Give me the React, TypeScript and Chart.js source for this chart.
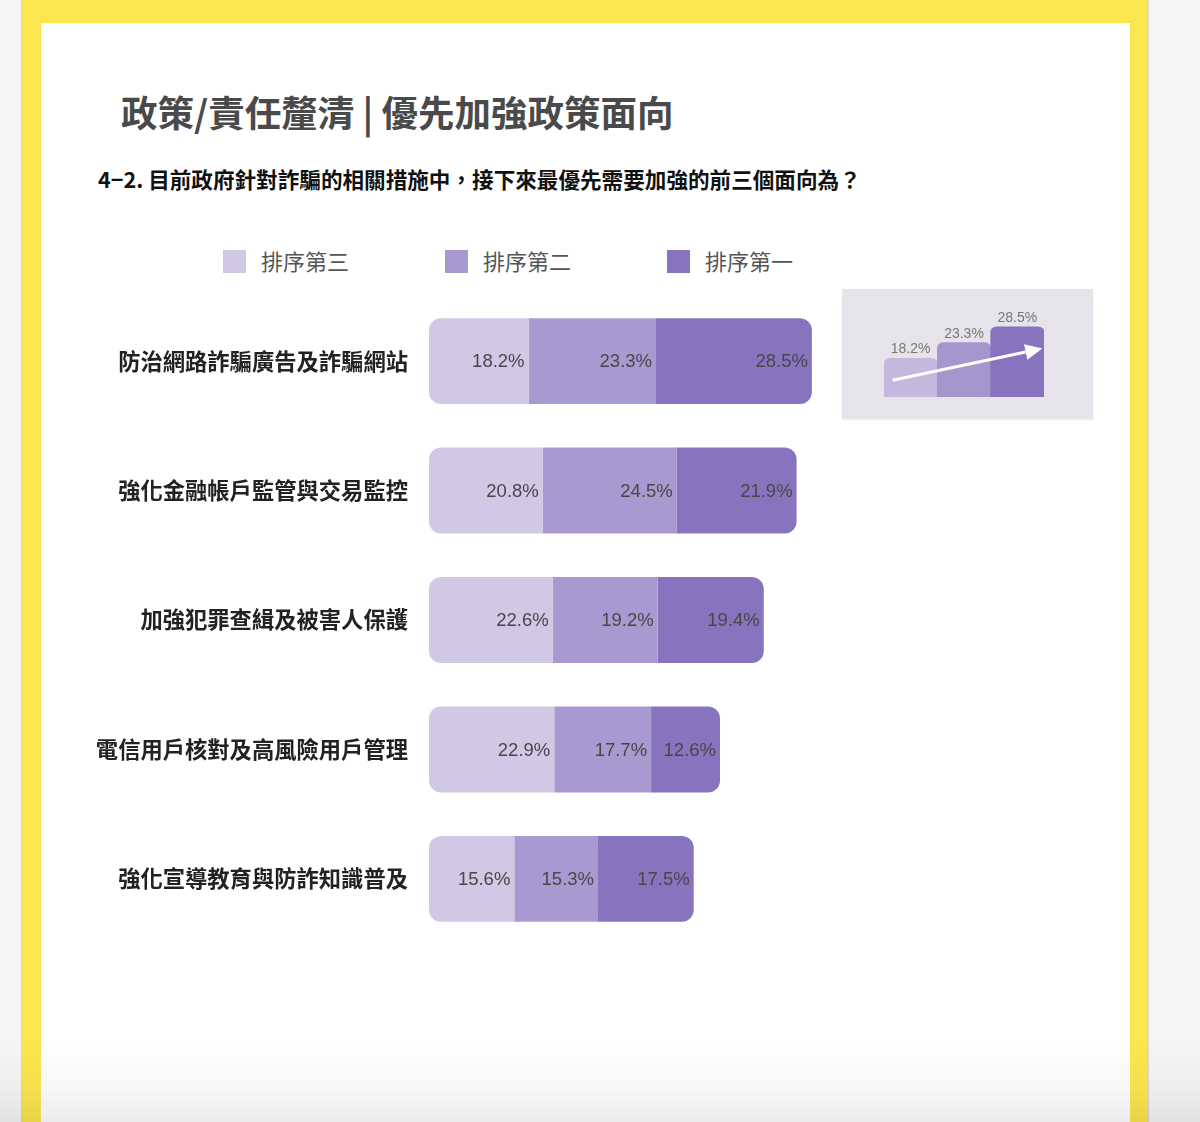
import React, { useEffect, useRef } from "react";
import { Chart, registerables } from "chart.js";

Chart.register(...registerables);

const categories = [
  "防治網路詐騙廣告及詐騙網站",
  "強化金融帳戶監管與交易監控",
  "加強犯罪查緝及被害人保護",
  "電信用戶核對及高風險用戶管理",
  "強化宣導教育與防詐知識普及",
];
const seriesNames = ["排序第三", "排序第二", "排序第一"];
const rank3 = [18.2, 20.8, 22.6, 22.9, 15.6];
const rank2 = [23.3, 24.5, 19.2, 17.7, 15.3];
const rank1 = [28.5, 21.9, 19.4, 12.6, 17.5];
const insetLabels = ["排序第三", "排序第二", "排序第一"];
const insetValues = [18.2, 23.3, 28.5];

const COLORS = ["#d1c8e6", "#a899d0", "#8874be"];
const INSET_COLORS = ["#c3b8dd", "#a597ce", "#8874be"];
const CJK = "'Noto Sans CJK TC', 'Noto Sans CJK SC', sans-serif";

const valueLabelPlugin = {
  id: "valueLabels",
  afterDatasetsDraw(chart: any) {
    const ctx = chart.ctx;
    ctx.save();
    ctx.font = "18.5px 'Liberation Sans', Arial, sans-serif";
    ctx.fillStyle = "#474747";
    ctx.textAlign = "right";
    ctx.textBaseline = "middle";
    chart.data.datasets.forEach((ds: any, di: number) => {
      const meta = chart.getDatasetMeta(di);
      meta.data.forEach((el: any, i: number) => {
        const v = ds.data[i];
        ctx.fillText(v.toFixed(1) + "%", el.x - 4, el.y + 1);
      });
    });
    ctx.restore();
  },
};

const insetPlugin = {
  id: "insetDecor",
  afterDatasetsDraw(chart: any) {
    const ctx = chart.ctx;
    const xs = chart.scales.x;
    const ys = chart.scales.y;
    ctx.save();
    ctx.font = "14px 'Liberation Sans', Arial, sans-serif";
    ctx.fillStyle = "#777";
    ctx.textAlign = "center";
    ctx.textBaseline = "bottom";
    const meta = chart.getDatasetMeta(0);
    meta.data.forEach((el: any, i: number) => {
      const v = chart.data.datasets[0].data[i];
      ctx.fillText(v.toFixed(1) + "%", el.x, el.y - 2);
    });
    // trend arrow
    const x0 = xs.getPixelForValue(0) - 18;
    const y0 = ys.getPixelForValue(11.0);
    const x1 = xs.getPixelForValue(2) + 25;
    const y1 = ys.getPixelForValue(21.4);
    const ang = Math.atan2(y1 - y0, x1 - x0);
    const headLen = 17;
    const headW = 8;
    const bx = x1 - headLen * Math.cos(ang);
    const by = y1 - headLen * Math.sin(ang);
    ctx.strokeStyle = "#ffffff";
    ctx.fillStyle = "#ffffff";
    ctx.lineWidth = 3;
    ctx.beginPath();
    ctx.moveTo(x0, y0);
    ctx.lineTo(bx, by);
    ctx.stroke();
    ctx.beginPath();
    ctx.moveTo(x1, y1);
    ctx.lineTo(bx + headW * Math.sin(ang), by - headW * Math.cos(ang));
    ctx.lineTo(bx - headW * Math.sin(ang), by + headW * Math.cos(ang));
    ctx.closePath();
    ctx.fill();
    ctx.restore();
  },
};

export default function App() {
  const mainRef = useRef<HTMLCanvasElement>(null);
  const insetRef = useRef<HTMLCanvasElement>(null);

  useEffect(() => {
    const rData = [rank3, rank2, rank1];
    const radii = [
      { topLeft: 12, bottomLeft: 12, topRight: 0, bottomRight: 0 },
      0,
      { topLeft: 0, bottomLeft: 0, topRight: 12, bottomRight: 12 },
    ];
    const main = new Chart(mainRef.current as HTMLCanvasElement, {
      type: "bar",
      data: {
        labels: categories,
        datasets: seriesNames.map((name, i) => ({
          label: name,
          data: rData[i],
          backgroundColor: COLORS[i],
          borderWidth: 0,
          borderSkipped: false,
          borderRadius: radii[i] as any,
          categoryPercentage: 0.664,
          barPercentage: 1,
        })),
      },
      options: {
        indexAxis: "y",
        responsive: false,
        animation: false,
        devicePixelRatio: 1,
        layout: { padding: 0 },
        plugins: {
          legend: { display: false },
          tooltip: { enabled: false },
        },
        scales: {
          x: { display: false, stacked: true, min: 0, max: 100 },
          y: {
            stacked: true,
            grid: { display: false, drawTicks: false },
            border: { display: false },
            ticks: {
              color: "#222",
              padding: 21,
              font: { family: CJK, size: 22.3, weight: "bold" },
            },
            afterFit: (scale: any) => {
              scale.width = 349;
            },
          },
        },
      },
      plugins: [valueLabelPlugin],
    } as any);

    const inset = new Chart(insetRef.current as HTMLCanvasElement, {
      type: "bar",
      data: {
        labels: insetLabels,
        datasets: [
          {
            data: insetValues,
            backgroundColor: INSET_COLORS,
            borderWidth: 0,
            borderSkipped: "start",
            borderRadius: 6,
            categoryPercentage: 1,
            barPercentage: 1,
          },
        ],
      },
      options: {
        responsive: false,
        animation: false,
        devicePixelRatio: 1,
        layout: { padding: { left: 42, right: 49, top: 18, bottom: 22 } },
        plugins: { legend: { display: false }, tooltip: { enabled: false } },
        scales: {
          x: { display: false },
          y: { display: false, min: 5.5, max: 35 },
        },
      },
      plugins: [insetPlugin],
    } as any);

    return () => {
      main.destroy();
      inset.destroy();
    };
  }, []);

  return (
    <div
      style={{
        position: "absolute",
        left: 0,
        top: 0,
        width: 1200,
        height: 1122,
        overflow: "hidden",
        background: "#f5f5f5",
        fontFamily: CJK,
      }}
    >
      {/* page edges */}
      <div style={{ position: "absolute", left: 21, top: 0, width: 1, height: 1122, background: "#d6d6d6" }} />
      <div style={{ position: "absolute", left: 1148, top: 0, width: 1, height: 1122, background: "#d6d6d6" }} />
      {/* yellow frame */}
      <div style={{ position: "absolute", left: 22, top: 0, width: 1126, height: 1122, background: "#fce64f" }} />
      {/* white inner */}
      <div style={{ position: "absolute", left: 41, top: 23, width: 1089, height: 1099, background: "#ffffff" }} />

      {/* title */}
      <div
        style={{
          position: "absolute",
          left: 121,
          top: 93,
          fontSize: 36.5,
          lineHeight: "37px",
          fontWeight: "bold",
          color: "#4a4a4a",
          whiteSpace: "nowrap",
        }}
      >
        政策/責任釐清 | 優先加強政策面向
      </div>
      {/* subtitle */}
      <div
        style={{
          position: "absolute",
          left: 98,
          top: 168,
          fontSize: 21.6,
          lineHeight: "22px",
          fontWeight: "bold",
          color: "#111",
          whiteSpace: "nowrap",
        }}
      >
        4−2. 目前政府針對詐騙的相關措施中，接下來最優先需要加強的前三個面向為？
      </div>

      {/* legend */}
      {seriesNames.map((name, i) => (
        <div
          key={name}
          style={{
            position: "absolute",
            left: 223 + i * 222,
            top: 250,
            height: 23,
            display: "flex",
            alignItems: "center",
            whiteSpace: "nowrap",
          }}
        >
          <div style={{ width: 23, height: 23, background: COLORS[i] }} />
          <div style={{ marginLeft: 15, marginTop: -3, fontSize: 22, lineHeight: "23px", color: "#555" }}>{name}</div>
        </div>
      ))}

      {/* main chart */}
      <canvas
        ref={mainRef}
        width={896}
        height={716}
        style={{ position: "absolute", left: 80, top: 262, width: 896, height: 716 }}
      />

      {/* inset */}
      <div
        style={{
          position: "absolute",
          left: 842,
          top: 289,
          width: 251,
          height: 130,
          background: "#e6e3eb",
          boxShadow: "0 1px 2px rgba(0,0,0,0.08)",
        }}
      >
        <canvas ref={insetRef} width={251} height={130} style={{ display: "block", width: 251, height: 130 }} />
      </div>

      {/* bottom shading */}
      <div
        style={{
          position: "absolute",
          left: 0,
          top: 1040,
          width: 1200,
          height: 82,
          background: "linear-gradient(to bottom, rgba(0,0,0,0) 0%, rgba(0,0,0,0.03) 60%, rgba(0,0,0,0.08) 100%)",
          pointerEvents: "none",
        }}
      />
    </div>
  );
}
